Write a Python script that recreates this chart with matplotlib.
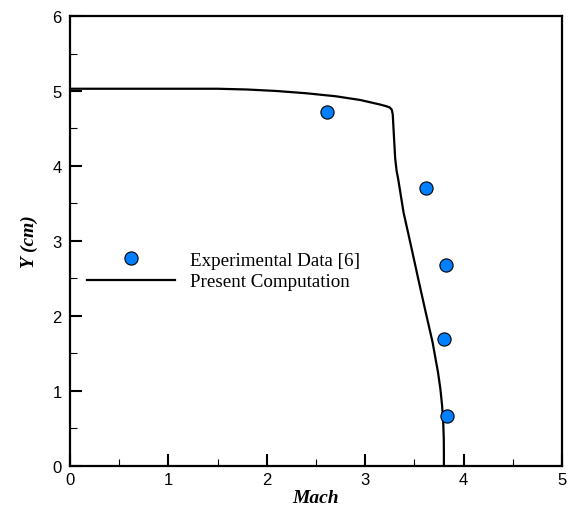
import numpy as np
import matplotlib
matplotlib.use("Agg")
from matplotlib import pyplot as plt

# dati sperimentali (punti blu)
exp_mach = [2.61, 3.62, 3.82, 3.80, 3.83]
exp_y = [4.72, 3.70, 2.68, 1.69, 0.67]

# calcolo numerico (linea nera)
calc_mach = [0.0, 0.5, 1.0, 1.5, 1.8, 2.1, 2.4, 2.7, 2.95, 3.15, 3.22, 3.25,
             3.27, 3.28, 3.29, 3.305, 3.32, 3.335, 3.39, 3.465, 3.54, 3.615,
             3.685, 3.715, 3.74, 3.765, 3.782, 3.793, 3.799, 3.80, 3.80]
calc_y = [5.03, 5.03, 5.03, 5.03, 5.02, 5.00, 4.97, 4.93, 4.88, 4.82, 4.795, 4.78,
          4.75, 4.69, 4.45, 4.10, 3.93, 3.83, 3.38, 2.94, 2.49, 2.05,
          1.65, 1.43, 1.25, 1.02, 0.80, 0.58, 0.36, 0.15, 0.0]

fig = plt.figure(figsize=(5.68, 5.06), dpi=100)
ax = fig.add_axes([0.1232, 0.0771, 0.8662, 0.8893])

ax.plot(exp_mach, exp_y, linestyle='', marker='o', markersize=9.5,
        markerfacecolor='#0080ff', markeredgecolor='black', markeredgewidth=0.8,
        label='Experimental Data [6]', zorder=3)
ax.plot(calc_mach, calc_y, color='black', lw=1.6, label='Present Computation',
        solid_joinstyle='round')

ax.set_xlim(0, 5)
ax.set_ylim(0, 6)
ax.set_xticks(np.arange(0, 6, 1))
ax.set_yticks(np.arange(0, 7, 1))
ax.set_xticks(np.arange(0.5, 5, 1), minor=True)
ax.set_yticks(np.arange(0.5, 6, 1), minor=True)

for s in ax.spines.values():
    s.set_linewidth(1.6)

ax.tick_params(which='major', direction='in', length=8.5, width=1.5,
               labelsize=12, pad=4)
ax.tick_params(which='minor', direction='in', length=5, width=0.8)
ax.tick_params(axis='y', pad=6)
for lab in ax.get_xticklabels() + ax.get_yticklabels():
    lab.set_fontfamily('Liberation Sans')

ax.set_xlabel('Mach', fontfamily='Liberation Serif', fontweight='bold',
              fontstyle='italic', fontsize=14, labelpad=2)
ax.set_ylabel('Y (cm)', fontfamily='Liberation Serif', fontweight='bold',
              fontstyle='italic', fontsize=14, labelpad=10)

ax.legend(loc='upper left', bbox_to_anchor=(0.035, 0.476), frameon=False,
          prop={'family': 'Liberation Serif', 'size': 13.7},
          handlelength=4.6, handletextpad=0.8, labelspacing=0.2,
          borderpad=0, borderaxespad=0)

fig.savefig('out.png', dpi=100)
